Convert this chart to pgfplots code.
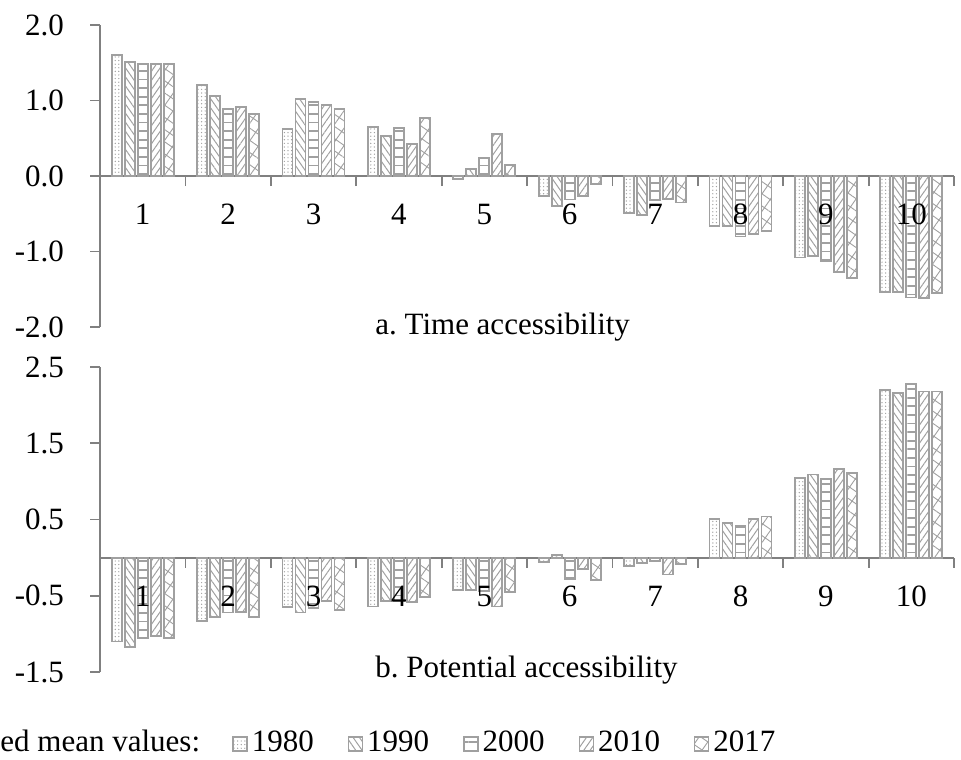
\documentclass[border=0pt]{standalone}
\usepackage{fontspec}
\setmainfont{Liberation Serif}
\usepackage{pgfplots}
\pgfplotsset{compat=1.18}
\usepackage{pgfplotstable}
\usetikzlibrary{patterns.meta}

\definecolor{axgray}{RGB}{128,128,128}
\definecolor{bargray}{RGB}{160,160,160}
\newcommand{\fs}{\fontsize{15.5}{18}\selectfont}
\frenchspacing

\pgfplotstableread{
g y1980 y1990 y2000 y2010 y2017
1 1.60 1.51 1.48 1.48 1.48
2 1.21 1.06 0.89 0.91 0.82
3 0.62 1.02 0.98 0.94 0.89
4 0.65 0.53 0.64 0.42 0.77
5 -0.04 0.09 0.24 0.56 0.15
6 -0.26 -0.40 -0.31 -0.27 -0.11
7 -0.49 -0.52 -0.32 -0.30 -0.35
8 -0.66 -0.66 -0.80 -0.77 -0.73
9 -1.08 -1.06 -1.13 -1.27 -1.35
10 -1.54 -1.54 -1.61 -1.62 -1.55
}\timetab

\pgfplotstableread{
g y1980 y1990 y2000 y2010 y2017
1 -1.10 -1.17 -1.05 -1.03 -1.05
2 -0.83 -0.78 -0.72 -0.71 -0.78
3 -0.65 -0.72 -0.66 -0.57 -0.69
4 -0.64 -0.57 -0.57 -0.58 -0.52
5 -0.42 -0.42 -0.44 -0.64 -0.45
6 -0.06 0.035 -0.28 -0.15 -0.29
7 -0.11 -0.07 -0.05 -0.22 -0.08
8 0.51 0.45 0.42 0.51 0.54
9 1.04 1.09 1.03 1.16 1.11
10 2.20 2.16 2.28 2.18 2.18
}\pottab

\pgfplotsset{
  sA/.style={draw=bargray, line width=0.9pt, pattern={Dots[distance=1.8pt,radius=0.35pt]}, pattern color=bargray},
  sB/.style={draw=bargray, line width=0.9pt, pattern={Lines[angle=-55,distance=2.6pt,line width=0.5pt]}, pattern color=bargray},
  sC/.style={draw=bargray, line width=0.9pt, pattern={Lines[angle=0,distance=4.3pt,line width=0.9pt]}, pattern color=bargray},
  sD/.style={draw=bargray, line width=0.9pt, pattern={Lines[angle=55,distance=2.6pt,line width=0.5pt]}, pattern color=bargray},
  sE/.style={draw=bargray, line width=0.9pt, pattern={Hatch[angle=55,distance=5pt,line width=0.45pt]}, pattern color=bargray},
  myaxis/.style={
    scale only axis, width=427pt,
    xmin=0.5, xmax=10.5, enlargelimits=false,
    axis x line*=middle, axis y line*=left,
    axis line style={axgray, line width=0.9pt},
    ybar=1.5pt, bar width=5pt,
    xtick={0.5,1.5,...,10.5}, xticklabels={,,,,,,,,,,,},
    tick align=outside, major tick length=5pt,
    tick style={axgray, line width=0.9pt},
    y tick label style={font=\fs, xshift=-9.5pt},
    clip=false,
  },
}

\begin{document}
\begin{tikzpicture}
\useasboundingbox (0pt,0pt) rectangle (480.5pt,-379.5pt);

% top axis: Time accessibility
\begin{axis}[myaxis, at={(50pt,-163.5pt)}, anchor=south west, height=151pt,
  ymin=-2, ymax=2, ytick={-2,-1,0,1,2}, yticklabels={-2.0,-1.0,0.0,1.0,2.0}]
\addplot[sA] table[x=g,y=y1980] {\timetab};
\addplot[sB] table[x=g,y=y1990] {\timetab};
\addplot[sC] table[x=g,y=y2000] {\timetab};
\addplot[sD] table[x=g,y=y2010] {\timetab};
\addplot[sE] table[x=g,y=y2017] {\timetab};
\pgfplotsinvokeforeach{1,...,10}{\node[font=\fs, inner sep=0pt] at (axis cs:#1,-0.507) {#1};}
\node[font=\fs, anchor=base west, inner sep=0pt] at (axis cs:3.72,-2.094) {a. Time accessibility};
\end{axis}

% bottom axis: Potential accessibility
\begin{axis}[myaxis, at={(50pt,-336pt)}, anchor=south west, height=152.5pt,
  ymin=-1.5, ymax=2.5, ytick={-1.5,-0.5,0.5,1.5,2.5}, yticklabels={-1.5,-0.5,0.5,1.5,2.5},
  legend columns=5,
  legend style={font=\fs, draw=none, fill=none, inner sep=0pt,
    at={(rel axis cs:0.1546,-0.233)}, anchor=west,
    /tikz/every even column/.append style={column sep=15pt}},
  legend image code/.code={\draw[#1, line width=0.7pt] (0pt,-4pt) rectangle (7pt,3pt);}]
\addplot[sA] table[x=g,y=y1980] {\pottab};
\addplot[sB] table[x=g,y=y1990] {\pottab};
\addplot[sC] table[x=g,y=y2000] {\pottab};
\addplot[sD] table[x=g,y=y2010] {\pottab};
\addplot[sE] table[x=g,y=y2017] {\pottab};
\legend{1980,1990,2000,2010,2017}
\pgfplotsinvokeforeach{1,...,10}{\node[font=\fs, inner sep=0pt] at (axis cs:#1,-0.504) {#1};}
\node[font=\fs, anchor=base west, inner sep=0pt] at (axis cs:3.72,-1.57) {b. Potential accessibility};
\end{axis}

\node[font=\fs, anchor=base west, inner sep=0pt] at (0pt,-375.5pt) {ed mean values:};
\end{tikzpicture}
\end{document}
